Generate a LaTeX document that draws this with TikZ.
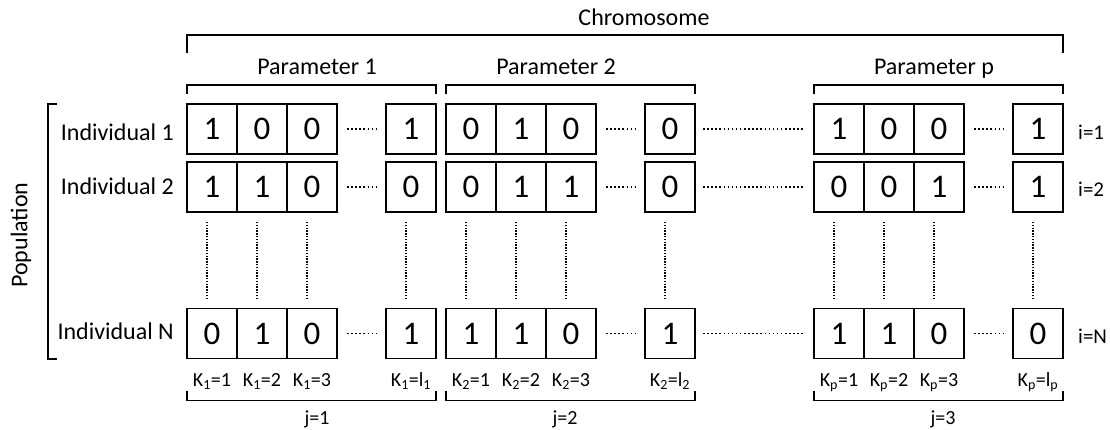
\documentclass[tikz,border=0pt]{standalone}
\usepackage{fontspec}
\setmainfont{Carlito}
\begin{document}
\begin{tikzpicture}[x=1pt,y=-1pt,
  cell/.style={draw, line width=1.8pt, minimum width=50pt, minimum height=50pt,
    inner sep=0pt, outer sep=0pt, font=\fontsize{33}{38}\selectfont},
  hdots/.style={line width=1.6pt, dash pattern=on 1.5pt off 2.6pt},
  vdots/.style={line width=1.6pt, dash pattern=on 1.4pt off 1.4pt,
    shorten <=10pt, shorten >=10pt},
  brk/.style={line width=1.8pt},
  lbl/.style={font=\fontsize{24}{28}\selectfont, inner sep=0pt},
  klbl/.style={font=\fontsize{20}{24}\selectfont, inner sep=0pt, anchor=base},
  ilbl/.style={font=\fontsize{21}{25}\selectfont, inner sep=0pt, anchor=base west}]

\fill[white] (0,0) rectangle (1110,430);
\useasboundingbox (0,0) rectangle (1110,430);

% one parameter gene: three leading bits, a gap, and the last bit
\newcommand{\bitgroup}[7]{%
  \node[cell] (#1a) at (#2,#3) {\raisebox{-2pt}{#4}};
  \node[cell] (#1b) at (#2+50,#3) {\raisebox{-2pt}{#5}};
  \node[cell] (#1c) at (#2+100,#3) {\raisebox{-2pt}{#6}};
  \node[cell] (#1d) at (#2+199,#3) {\raisebox{-2pt}{#7}};
  \draw[hdots, shorten <=10pt, shorten >=10pt] (#1c.east) -- (#1d.west);
}

% individual 1
\bitgroup{r1p1}{212}{129}{1}{0}{0}{1}
\bitgroup{r1p2}{471}{129}{0}{1}{0}{0}
\bitgroup{r1pp}{839}{129}{1}{0}{0}{1}
% individual 2
\bitgroup{r2p1}{212}{187}{1}{1}{0}{0}
\bitgroup{r2p2}{471}{187}{0}{1}{1}{0}
\bitgroup{r2pp}{839}{187}{0}{0}{1}{1}
% individual N
\bitgroup{rNp1}{212}{333.5}{0}{1}{0}{1}
\bitgroup{rNp2}{471}{333.5}{1}{1}{0}{1}
\bitgroup{rNpp}{839}{333.5}{1}{1}{0}{0}

% gaps between parameter 2 and parameter p
\foreach \r in {r1,r2,rN}
  \draw[hdots, shorten <=8pt, shorten >=9pt] (\r p2d.east) -- (\r ppa.west);

% columns continue down to individual N
\foreach \p in {p1,p2,pp}
  \foreach \k in {a,b,c,d}
    \draw[vdots] ([xshift=-5pt]r2\p\k.south) -- ([xshift=-5pt]rN\p\k.north);

% row labels
\node[lbl, anchor=base east] (ind1) at (174,141) {Individual 1};
\node[lbl, anchor=base east] (ind2) at (174,195) {Individual 2};
\node[lbl, anchor=base east] (indN) at (174,339) {Individual N};
\node[ilbl] (i1) at (1078,140) {i=1};
\node[ilbl] (i2) at (1078,197) {i=2};
\node[ilbl] (iN) at (1078,343) {i=N};

% population bracket
\draw[brk] (57,104) -- (48,104) -- (48,359) -- (57,359);
\node[lbl, rotate=90] (pop) at (21,235) {Population};

% chromosome bracket
\draw[brk] ([yshift=51pt]r1p1a.north west) -- ([yshift=69pt]r1p1a.north west)
  -- ([yshift=69pt]r1ppd.north east) -- ([yshift=51pt]r1ppd.north east);
\node[lbl, anchor=base] (chrom) at (644,26) {Chromosome};

% parameter brackets (top) and gene index brackets (bottom)
\foreach \p in {p1,p2,pp} {
  \draw[brk] ([yshift=10pt]r1\p a.north west) -- ([yshift=19pt]r1\p a.north west)
    -- ([yshift=19pt]r1\p d.north east) -- ([yshift=10pt]r1\p d.north east);
  \draw[brk] ([yshift=-32pt]rN\p a.south west) -- ([yshift=-42pt]rN\p a.south west)
    -- ([yshift=-42pt]rN\p d.south east) -- ([yshift=-32pt]rN\p d.south east);
}
\node[lbl, anchor=base] (par1) at (317,75) {Parameter 1};
\node[lbl, anchor=base] (par2) at (556,75) {Parameter 2};
\node[lbl, anchor=base] (parp) at (934,75) {Parameter p};
\node[klbl] (j1) at (317,424) {j=1};
\node[klbl] (j2) at (565,424) {j=2};
\node[klbl] (j3) at (943,424) {j=3};

% bit position labels
\foreach \p/\s in {p1/1, p2/2, pp/p} {
  \node[klbl] (k\p a) at ([yshift=-52.5pt]rN\p a.center) {K\textsubscript{\s}=1};
  \node[klbl] (k\p b) at ([yshift=-52.5pt]rN\p b.center) {K\textsubscript{\s}=2};
  \node[klbl] (k\p c) at ([yshift=-52.5pt]rN\p c.center) {K\textsubscript{\s}=3};
  \node[klbl] (k\p d) at ([yshift=-52.5pt]rN\p d.center) {K\textsubscript{\s}=l\textsubscript{\s}};
}
\end{tikzpicture}
\end{document}
